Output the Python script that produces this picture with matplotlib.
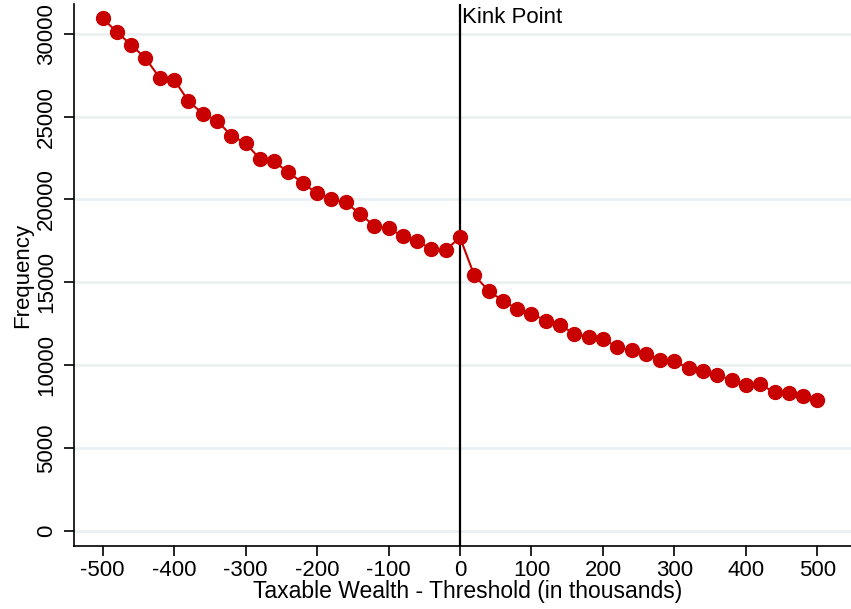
import numpy as np
import matplotlib.pyplot as plt

plt.rcParams['font.family'] = ['Liberation Sans', 'DejaVu Sans']

# Distance from the threshold (in thousands) and bin counts
wealth_bins = list(range(-500, 501, 20))
frequency = [
    30930, 30100, 29320, 28520, 27330, 27230, 25940, 25180, 24760, 23855,
    23400, 22450, 22290, 21630, 21000, 20360, 20040, 19820, 19140, 18400,
    18250, 17800, 17510, 16990, 16950, 17710,
    15420, 14500, 13880, 13400, 13110, 12690, 12430, 11890, 11730, 11590,
    11080, 10890, 10650, 10330, 10240, 9820, 9660, 9440, 9080, 8780,
    8840, 8370, 8340, 8160, 7930,
]
x_ticks = list(range(-500, 501, 100))
y_ticks = list(range(0, 30001, 5000))

red = '#c80000'

fig = plt.figure(figsize=(8.51, 6.09), dpi=100)
ax = fig.add_axes([74 / 851, 1 - 545.7 / 609, 1 - 74 / 851, (545.7 - 4.3) / 609])

# Light horizontal grid
for yv in y_ticks:
    ax.axhline(yv, color='#e8f0f2', linewidth=1.8, zorder=0)

ax.plot(wealth_bins, frequency, color=red, linewidth=1.5, marker='o',
        markersize=10, markerfacecolor=red, markeredgecolor=red, zorder=3)

# Kink point marker
ax.axvline(0, color='black', linewidth=1.6, zorder=2)
ax.annotate('Kink Point', xy=(0, 1), xycoords=('data', 'axes fraction'),
            xytext=(1.5, -2), textcoords='offset points',
            ha='left', va='top', fontsize=16)

ax.set_xlim(-540, 547)
ax.set_ylim(-887, 31773)
ax.set_xticks(x_ticks)
ax.set_xticklabels([str(v) for v in x_ticks])
ax.set_yticks(y_ticks)
ax.set_yticklabels([str(v) for v in y_ticks], rotation=90, va='center')

ax.tick_params(axis='x', length=7, width=1.2, labelsize=16, pad=3)
ax.tick_params(axis='y', length=7, width=1.2, labelsize=16, pad=5)

ax.spines['top'].set_visible(False)
ax.spines['right'].set_visible(False)
ax.spines['left'].set_linewidth(1.2)
ax.spines['bottom'].set_linewidth(1.2)

ax.set_xlabel('Taxable Wealth - Threshold (in thousands)', fontsize=16.5)
ax.xaxis.set_label_coords(0.507, -0.064)
ax.set_ylabel('Frequency', fontsize=16, labelpad=2)

fig.savefig('out.png', dpi=100)
